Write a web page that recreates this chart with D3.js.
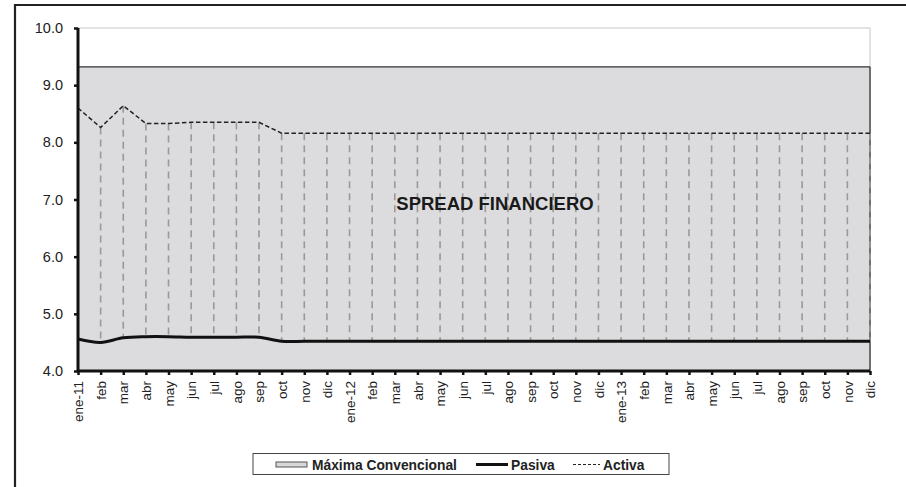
<!DOCTYPE html>
<html><head><meta charset="utf-8">
<script src="https://cdn.jsdelivr.net/npm/d3@7"></script>
<style>body{margin:0;background:#fff}svg{display:block}text{font-family:"Liberation Sans",Arial,sans-serif}</style>
</head><body><svg id="c" width="906" height="487"></svg>
<script>
const months = ["ene-11","feb","mar","abr","may","jun","jul","ago","sep","oct","nov","dic",
"ene-12","feb","mar","abr","may","jun","jul","ago","sep","oct","nov","dic",
"ene-13","feb","mar","abr","may","jun","jul","ago","sep","oct","nov","dic"];
const activa = [8.60,8.26,8.64,8.33,8.33,8.35,8.35,8.35,8.35,8.16,8.16,8.16,
8.16,8.16,8.16,8.16,8.16,8.16,8.16,8.16,8.16,8.16,8.16,8.16,
8.16,8.16,8.16,8.16,8.16,8.16,8.16,8.16,8.16,8.16,8.16,8.16];
const pasiva = [4.56,4.50,4.58,4.60,4.60,4.59,4.59,4.59,4.59,4.52,4.52,4.52,
4.52,4.52,4.52,4.52,4.52,4.52,4.52,4.52,4.52,4.52,4.52,4.52,
4.52,4.52,4.52,4.52,4.52,4.52,4.52,4.52,4.52,4.52,4.52,4.52];
const maxima = months.map(()=>9.32);
const yTicks = [4,5,6,7,8,9,10];

const svg = d3.select("#c");
const L=78,R=870,T=28,B=371;
const x = d3.scalePoint().domain(d3.range(months.length)).range([L,R]);
const y = d3.scaleLinear().domain([4,10]).range([B,T]);

// outer frame
svg.append("path").attr("d","M15,490V5H910").attr("fill","none").attr("stroke","#222").attr("stroke-width",2.2);

// plot area border
svg.append("rect").attr("x",L).attr("y",T).attr("width",R-L).attr("height",B-T)
  .attr("fill","none").attr("stroke","#c8c8c8").attr("stroke-width",1);

// maxima area
svg.append("path").datum(maxima)
  .attr("d",d3.area().x((d,i)=>x(i)).y0(y(4)).y1(d=>y(d)))
  .attr("fill","#dcdcde").attr("stroke","none");
svg.append("path").datum(maxima)
  .attr("d",d3.line().x((d,i)=>x(i)).y(d=>y(d)))
  .attr("fill","none").attr("stroke","#333").attr("stroke-width",1.3);
svg.append("line").attr("x1",R).attr("x2",R).attr("y1",y(maxima[0])).attr("y2",B).attr("stroke","#333").attr("stroke-width",1.3);

// drop lines
svg.append("g").selectAll("line").data(months).join("line")
  .attr("x1",(d,i)=>x(i)).attr("x2",(d,i)=>x(i))
  .attr("y1",(d,i)=>y(activa[i])).attr("y2",(d,i)=>y(pasiva[i]))
  .attr("stroke","#999").attr("stroke-width",1.6).attr("stroke-dasharray","7,5");

// activa
svg.append("path").datum(activa)
  .attr("d",d3.line().x((d,i)=>x(i)).y(d=>y(d)))
  .attr("fill","none").attr("stroke","#222").attr("stroke-width",1.5).attr("stroke-dasharray","4.5,2.5");
// pasiva
svg.append("path").datum(pasiva)
  .attr("d",d3.line().curve(d3.curveCatmullRom.alpha(0)).x((d,i)=>x(i)).y(d=>y(d)))
  .attr("fill","none").attr("stroke","#111").attr("stroke-width",3);

// axes
const ya = svg.append("g").attr("transform",`translate(${L},0)`)
  .call(d3.axisLeft(y).tickValues(yTicks).tickFormat(d3.format(".1f")).tickSize(4).tickPadding(11));
ya.select(".domain").attr("stroke","#111").attr("stroke-width",3).attr("d",`M0,${T}V${B}`);
ya.selectAll(".tick line").attr("stroke","#111").attr("stroke-width",2.5);
ya.selectAll("text").attr("font-size",14.5).attr("fill","#222");

const xa = svg.append("g").attr("transform",`translate(0,${B})`)
  .call(d3.axisBottom(x).tickFormat(i=>months[i]).tickSize(4).tickPadding(4));
xa.select(".domain").attr("stroke","#111").attr("stroke-width",3).attr("d",`M${L},0H${R}`);
xa.selectAll(".tick line").attr("stroke","#111").attr("stroke-width",2.5);
xa.selectAll("text").attr("font-size",13.5).attr("fill","#222")
  .attr("transform","rotate(-90)").attr("text-anchor","end").attr("dy","0.35em").attr("x",-10).attr("y",0);

// title
svg.append("text").attr("x",495).attr("y",210).attr("text-anchor","middle")
  .attr("font-size",18.5).attr("font-weight","bold").attr("fill","#1a1a1a").text("SPREAD FINANCIERO");

// legend
const lg = svg.append("g");
lg.append("rect").attr("x",253).attr("y",453.5).attr("width",416).attr("height",21).attr("fill","#fff").attr("stroke","#444").attr("stroke-width",1);
lg.append("rect").attr("x",276).attr("y",462).attr("width",31).attr("height",5).attr("fill","#d8d8d8").attr("stroke","#555").attr("stroke-width",1);
lg.append("text").attr("x",312).attr("y",469.5).attr("font-size",13.8).attr("font-weight","bold").attr("fill","#222").text("Máxima Convencional");
lg.append("line").attr("x1",476).attr("x2",508).attr("y1",464.5).attr("y2",464.5).attr("stroke","#111").attr("stroke-width",3);
lg.append("text").attr("x",511).attr("y",469.5).attr("font-size",13.8).attr("font-weight","bold").attr("fill","#222").text("Pasiva");
lg.append("line").attr("x1",573).attr("x2",600).attr("y1",464.5).attr("y2",464.5).attr("stroke","#222").attr("stroke-width",1.2).attr("stroke-dasharray","3,2");
lg.append("text").attr("x",603).attr("y",469.5).attr("font-size",13.8).attr("font-weight","bold").attr("fill","#222").text("Activa");
</script></body></html>
